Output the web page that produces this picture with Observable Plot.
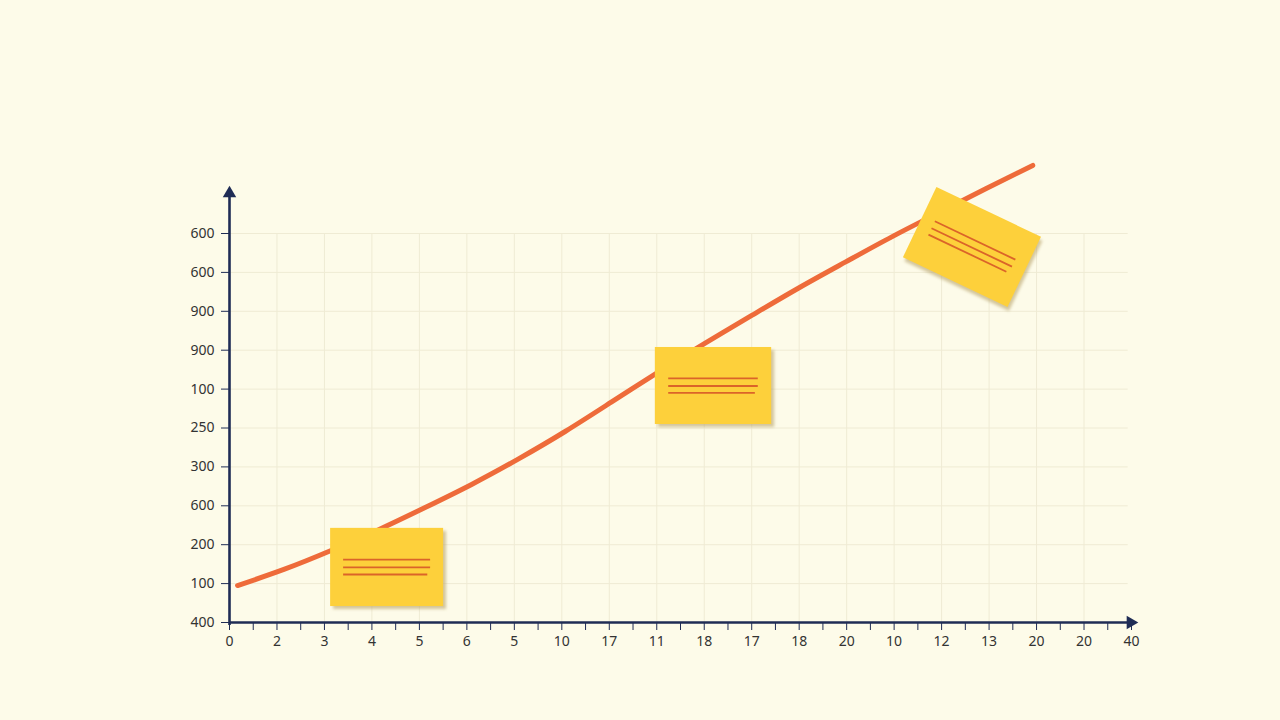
<!DOCTYPE html>
<html>
<head>
<meta charset="utf-8">
<script src="https://cdn.jsdelivr.net/npm/d3@7"></script>
<script src="https://cdn.jsdelivr.net/npm/@observablehq/plot@0.6"></script>
<style>
  html, body { margin: 0; padding: 0; background: #fdfbe9; }
  #chart { width: 1280px; height: 720px; }
</style>
</head>
<body>
<div id="chart"></div>
<script>
// ---- data ----
const xTickLabels = ["0","2","3","4","5","6","5","10","17","11","18","17","18","20","10","12","13","20","20","40"];
const yTickLabels = ["400","100","200","600","300","250","100","900","900","600","600"]; // bottom to top

const curveX = [0.17, 1.16, 2.14, 3.13, 4.11, 5.10, 6.08, 7.07, 8.05, 9.04, 10.02, 11.01, 11.99, 12.98, 13.96, 14.95, 15.93, 16.92];
const curveY = [0.95, 1.37, 1.85, 2.38, 2.95, 3.55, 4.20, 4.91, 5.67, 6.44, 7.18, 7.90, 8.60, 9.27, 9.92, 10.54, 11.15, 11.75];

const noteX1 = [2.13, 8.97, 14.43];
const noteX2 = [4.51, 11.42, 16.87];
const noteY1 = [0.41, 5.09, 8.64];
const noteY2 = [2.42, 7.07, 10.64];
const noteAngle = [0, 0, 25.5];

// ---- derived tables ----
const curve = curveX.map((x, i) => ({x, y: curveY[i]}));
const notes = noteX1.map((x1, i) => ({id: i, x1, x2: noteX2[i], y1: noteY1[i], y2: noteY2[i], angle: noteAngle[i]}));
const lineFracs = [0.40, 0.50, 0.59];
const noteLines = notes.flatMap(n => lineFracs.map((f, k) => ({
  id: n.id,
  x1: n.x1 + (n.x2 - n.x1) * 0.115,
  x2: n.x1 + (n.x2 - n.x1) * (k === 2 ? 0.86 : 0.885),
  y: n.y2 - (n.y2 - n.y1) * f
})));

const xTicks = d3.range(0, 19.01, 0.5);
const yTicks = d3.range(0, 11);

const navy = "#1f2c55";
const noteMarks = notes.flatMap(n => [
  Plot.rect([n], {x1: "x1", x2: "x2", y1: "y1", y2: "y2", fill: "#b8a46a", fillOpacity: 0.6, dx: 3, dy: 3, ariaLabel: () => `note${n.id}-shadow`}),
  Plot.rect([n], {x1: "x1", x2: "x2", y1: "y1", y2: "y2", fill: "#fdd03b", ariaLabel: () => `note${n.id}-body`}),
  Plot.ruleY(noteLines.filter(l => l.id === n.id), {x1: "x1", x2: "x2", y: "y", stroke: "#db6429", strokeWidth: 1.8, ariaLabel: () => `note${n.id}-lines`})
]);

const plot = Plot.plot({
  width: 1280,
  height: 720,
  marginLeft: 229,
  marginRight: 149,
  marginTop: 233,
  marginBottom: 98,
  style: {background: "#fdfbe9", fontFamily: "'Noto Sans', sans-serif", fontSize: "14px", color: navy},
  x: {domain: [0, 19], ticks: xTicks, tickSize: 8, tickPadding: 6, tickFormat: d => Number.isInteger(d) ? xTickLabels[d] : "", label: null},
  y: {domain: [0, 10], ticks: yTicks, tickSize: 8, tickPadding: 7, tickFormat: d => yTickLabels[d], label: null},
  marks: [
    Plot.ruleX(d3.range(1, 19), {y1: 0, y2: 10, stroke: "#efebd4", strokeWidth: 1}),
    Plot.ruleY(d3.range(1, 11), {x1: 0, x2: 18.93, stroke: "#efebd4", strokeWidth: 1}),
    Plot.line(curve, {x: "x", y: "y", curve: "natural", stroke: "#ee6b3a", strokeWidth: 5, strokeLinecap: "round"}),
    ...noteMarks,
    Plot.ruleX([0], {y1: -0.08, y2: 11.0, stroke: navy, strokeWidth: 2.6}),
    Plot.ruleY([0], {x1: 0, x2: 18.95, stroke: navy, strokeWidth: 2.6}),
    Plot.dot([{x: 0, y: 11.03}], {x: "x", y: "y", symbol: "triangle", r: 5, fill: navy, stroke: null}),
    Plot.dot([{x: 18.98, y: 0}], {x: "x", y: "y", symbol: "triangle", r: 5, fill: navy, stroke: null, rotate: 90})
  ]
});

document.getElementById("chart").appendChild(plot);
const svg = d3.select(plot);

// axis label colour
svg.selectAll('g[aria-label$="tick label"] text').attr("fill", "#333333");

// soft shadow filter
const defs = svg.insert("defs", ":first-child");
defs.append("filter").attr("id", "softShadow").attr("x", "-20%").attr("y", "-20%").attr("width", "140%").attr("height", "140%")
  .append("feGaussianBlur").attr("stdDeviation", 1.6);
svg.selectAll('[aria-label$="-shadow"]').attr("filter", "url(#softShadow)");

// rotate tilted notes around their centres
const sx = plot.scale("x"), sy = plot.scale("y");
const px = v => sx.apply ? sx.apply(v) : 229 + v / 19 * (1280 - 229 - 149);
const py = v => sy.apply ? sy.apply(v) : 622 - v / 10 * (622 - 233);
notes.filter(n => n.angle !== 0).forEach(n => {
  const cx = px((n.x1 + n.x2) / 2), cy = py((n.y1 + n.y2) / 2);
  const els = svg.selectAll(`[aria-label^="note${n.id}-"]`).nodes();
  if (!els.length) return;
  const groups = Array.from(new Set(els.map(e => e.tagName.toLowerCase() === "g" ? e : e.parentNode)));
  const wrap = document.createElementNS("http://www.w3.org/2000/svg", "g");
  wrap.setAttribute("transform", `rotate(${n.angle},${cx},${cy})`);
  groups[0].parentNode.insertBefore(wrap, groups[0]);
  groups.forEach(g => wrap.appendChild(g));
});
</script>
</body>
</html>
